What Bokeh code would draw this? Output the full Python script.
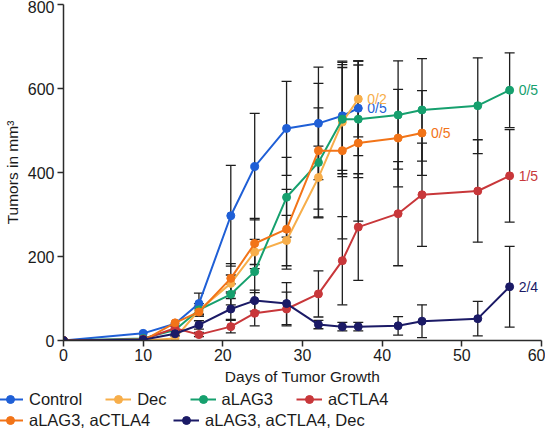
from bokeh.plotting import figure
from bokeh.models import ColumnDataSource, Whisker, TeeHead, Legend, LegendItem, LabelSet, FixedTicker, Range1d
from bokeh.core.properties import value
from bokeh.embed import file_html
from bokeh.resources import INLINE

FONT = "Liberation Sans"

# ---- data ----
control_days = [0, 10, 14, 17, 21, 24, 28, 32, 35, 37]
control_mean = [0, 17, 40, 88, 297, 414, 505, 517, 535, 553]
control_sd = [0, 0, 0, 25, 120, 127, 112, 134, 130, 113]

dec_days = [0, 10, 14, 17, 21, 24, 28, 32, 35, 37]
dec_mean = [0, 0, 5, 72, 136, 211, 238, 388, 520, 575]
dec_sd = [0, 0, 0, 10, 20, 30, 60, 75, 130, 90]

lag3_days = [0, 10, 14, 17, 21, 24, 28, 32, 35, 37, 42, 45, 52, 56]
lag3_mean = [0, 5, 25, 73, 110, 164, 341, 424, 527, 527, 537, 549, 559, 596]
lag3_sd = [0, 0, 0, 15, 25, 50, 95, 130, 130, 139, 129, 122, 114, 89]

ctla4_days = [0, 10, 14, 17, 21, 24, 28, 32, 35, 37, 42, 45, 52, 56]
ctla4_mean = [0, 3, 29, 14, 33, 65, 75, 111, 190, 270, 302, 347, 356, 392]
ctla4_sd = [0, 0, 5, 5, 15, 30, 40, 55, 105, 127, 124, 123, 122, 110]

combo_days = [0, 10, 14, 17, 21, 24, 28, 32, 35, 37, 42, 45]
combo_mean = [0, 0, 42, 68, 148, 231, 265, 452, 452, 470, 482, 494]
combo_sd = [0, 0, 0, 10, 35, 60, 95, 160, 210, 186, 116, 101]

triple_days = [0, 10, 14, 17, 21, 24, 28, 32, 35, 37, 42, 45, 52, 56]
triple_mean = [0, 2, 16, 37, 75, 95, 88, 38, 33, 33, 35, 46, 52, 128]
triple_sd = [0, 0, 5, 10, 25, 25, 50, 10, 10, 10, 22, 39, 41, 96]

names = ["Control", "Dec", "aLAG3", "aCTLA4", "aLAG3, aCTLA4", "aLAG3, aCTLA4, Dec"]
colors = ["#1f5fd6", "#f7ae4a", "#16a06e", "#c8373a", "#f27418", "#1b1a66"]
end_labels = ["0/5", "0/2", "0/5", "1/5", "0/5", "2/4"]

x_ticks = [0, 10, 20, 30, 40, 50, 60]
y_ticks = [0, 200, 400, 600, 800]

series = [
    (control_days, control_mean, control_sd),
    (dec_days, dec_mean, dec_sd),
    (lag3_days, lag3_mean, lag3_sd),
    (ctla4_days, ctla4_mean, ctla4_sd),
    (combo_days, combo_mean, combo_sd),
    (triple_days, triple_mean, triple_sd),
]

p = figure(width=545, height=388, output_backend="svg", toolbar_location=None,
           x_range=Range1d(0, 60), y_range=Range1d(0, 800),
           min_border_left=58, min_border_right=4, min_border_top=4, min_border_bottom=48)
p.outline_line_color = None
p.xgrid.visible = False
p.ygrid.visible = False
p.background_fill_color = "white"
p.border_fill_color = "white"

for ax in (p.xaxis[0], p.yaxis[0]):
    ax.axis_line_color = "#2b2b2b"
    ax.axis_line_width = 1.5
    ax.major_tick_line_color = "#2b2b2b"
    ax.major_tick_line_width = 1.5
    ax.major_tick_out = 6
    ax.major_tick_in = 0
    ax.minor_tick_line_color = None
    ax.major_label_text_font = FONT
    ax.major_label_text_font_size = "16px"
    ax.major_label_text_color = "#1a1a1a"
    ax.axis_label_text_font = FONT
    ax.axis_label_text_font_size = "15.5px"
    ax.axis_label_text_font_style = "normal"
    ax.axis_label_text_color = "#1a1a1a"

p.xaxis.ticker = FixedTicker(ticks=x_ticks)
p.yaxis.ticker = FixedTicker(ticks=y_ticks)
p.xaxis.axis_label = "Days of Tumor Growth"
p.yaxis.axis_label = "Tumors in mm³"
p.xaxis.major_label_standoff = 2
p.xaxis.axis_label_standoff = 4
p.yaxis.major_label_standoff = 3
p.yaxis.axis_label_standoff = 4

# error bars first
for days, mean, sd in series:
    xs = [d for d, s in zip(days, sd) if s > 0]
    up = [m + s for m, s in zip(mean, sd) if s > 0]
    lo = [max(m - s, 0) for m, s in zip(mean, sd) if s > 0]
    src = ColumnDataSource(dict(x=xs, upper=up, lower=lo))
    w = Whisker(source=src, base="x", upper="upper", lower="lower",
                line_color="#1e1e1e", line_width=1.3,
                upper_head=TeeHead(size=10, line_color="#1e1e1e", line_width=1.3),
                lower_head=TeeHead(size=10, line_color="#1e1e1e", line_width=1.3))
    p.add_layout(w)

# legend-only figure below the chart (its view range excludes the data)
lf = figure(width=545, height=42, output_backend="svg", toolbar_location=None,
            x_range=Range1d(-1000, -900), y_range=Range1d(-1000, -900),
            x_axis_location=None, y_axis_location=None,
            min_border_left=0, min_border_right=0, min_border_top=0, min_border_bottom=0)
lf.grid.visible = False
lf.outline_line_color = None

items = []
for (days, mean, sd), name, col in zip(series, names, colors):
    src = ColumnDataSource(dict(x=days, y=mean))
    p.line("x", "y", source=src, line_color=col, line_width=2)
    p.scatter("x", "y", source=src, size=8, fill_color=col, line_color=col)
    l2 = lf.line("x", "y", source=src, line_color=col, line_width=2)
    s2 = lf.scatter("x", "y", source=src, size=7, fill_color=col, line_color=col)
    items.append(LegendItem(label=name, renderers=[l2, s2]))

# end labels
lab_src = ColumnDataSource(dict(
    x=[s[0][-1] for s in series],
    y=[s[1][-1] for s in series],
    text=end_labels,
    color=colors,
))
labels = LabelSet(source=lab_src, x="x", y="y", text="text", text_color="color",
                  x_offset=9, y_offset=0, text_baseline="middle",
                  text_font=value(FONT), text_font_size=value("14px"))
p.add_layout(labels)

def make_legend(its, loc):
    lg = Legend(items=its, orientation="horizontal", location=loc,
                label_text_font=FONT, label_text_font_size="16.5px",
                label_text_color="#1a1a1a", glyph_width=26, glyph_height=20,
                label_height=20, label_standoff=6, spacing=23, padding=0, margin=0,
                border_line_color=None, background_fill_alpha=0)
    return lg

lf.add_layout(make_legend(items[:4], (-3, 21)), "center")
lf.add_layout(make_legend(items[4:], (-3, 0)), "center")

open("out.html", "w").write(file_html([p, lf], INLINE))
